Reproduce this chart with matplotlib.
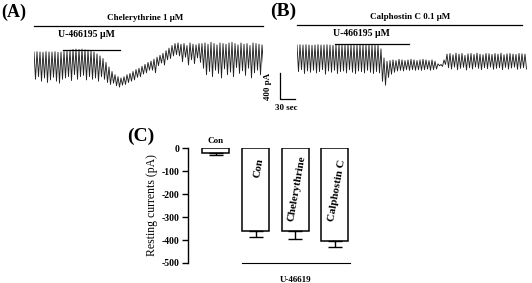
import numpy as np
import matplotlib
matplotlib.use('Agg')
import matplotlib.pyplot as plt

plt.rcParams['font.family'] = ['Liberation Serif', 'DejaVu Serif']
plt.rcParams['font.weight'] = 'bold'

### DATA
period = 6.0  # sec per oscillation
# trace A (chelerythrine), peak / trough current of each cycle, pA
a_peaks = [0, 5, 0, -5, 5, 0, 0, 5, -5, 0, 10, 15, 30, 40, 45, 40, 45, 35, 30, 15, 0, -30, -60, -100,
           -160, -230, -300, -350, -380, -400,
           -380, -350, -330, -300, -270, -250, -220, -190, -160, -140, -110, -80, -50, -20, 20, 60, 100, 130,
           140, 120, 130, 100, 140, 120, 110, 130,
           130, 140, 120, 150, 130, 110, 140, 130, 120, 140, 150, 130, 110, 140, 120, 130, 100, 140, 130, 120, 110]
a_troughs = [-420, -380, -450, -400, -470, -430, -390, -450, -480, -420, -400, -380, -440, -350, -420, -380,
             -360, -430, -380, -420, -400, -450, -380, -420,
             -470, -500, -480, -520, -540, -510,
             -500, -470, -450, -430, -390, -380, -340, -320, -280, -280, -320, -210, -170, -200, -120, -100, -60, -40,
             -60, -150, -80, -200, -120, -180, -90, -160,
             -250, -350, -300, -380, -280, -330, -400, -260, -350, -310, -380, -240, -330, -290, -360, -250,
             -400, -320, -280, -350, -200]
# trace B (calphostin C)
b_peaks = [0, 5, 0, 5, 0, -5, 0, 5, 0, 0, 5, 0, -5, 0, 5, 0, 0, 5, 0, -5, 0, 5, 0, 0, 5, 0, -5, 0,
           -60, -200,
           -250, -240, -230, -240, -220, -230, -240, -230, -220, -230, -240, -230, -220, -230, -240, -230, -250,
           -290, -300, -230,
           -140, -130, -150, -125, -140, -130, -160, -135, -130, -145, -125, -140, -150, -130, -135, -145,
           -130, -140, -125, -150, -135, -130, -140, -145, -130, -135, -140]
b_troughs = [-410, -380, -440, -400, -420, -390, -430, -410, -380, -450, -400, -420, -390, -440, -410, -400,
             -430, -380, -420, -440, -400, -410, -430, -390, -420, -440, -410, -430,
             -560, -620,
             -500, -450, -420, -400, -390, -400, -380, -390, -380, -390, -380, -390, -380, -370, -390, -380, -370,
             -320, -330, -300,
             -350, -370, -340, -380, -360, -345, -385, -350, -370, -340, -360, -380, -350, -365, -340, -375,
             -360, -350, -380, -345, -370, -355, -340, -375, -360, -350, -370]
a_drug = [0, 458]      # chelerythrine application, sec
a_u466 = [58, 172]     # U-46619, sec
b_drug = [0, 450]
b_u466 = [76, 224]
scale_pa = 400
scale_sec = 30

# panel C
c_pos = [0, 1, 2, 3]
c_vals = [-20, -362, -360, -403]
c_errs = [10, 25, 35, 27]
c_labels = ['Con', 'Con', 'Chelerythrine', 'Calphostin C']
c_yticks = [0, -100, -200, -300, -400, -500]

W, H = 532, 283
fig = plt.figure(figsize=(W / 100, H / 100), dpi=100)

def px_axes(x0, y0, x1, y1):
    return fig.add_axes([x0 / W, 1 - y1 / H, (x1 - x0) / W, (y1 - y0) / H])

def zigzag(peaks, troughs):
    t, v = [], []
    for i in range(len(peaks)):
        t += [i * period, i * period + period / 2]
        v += [peaks[i], troughs[i]]
    return t, v

pa_px = 15.4  # pA per pixel
tc = '#222222'

# ---- (A)
axa = px_axes(34, 5, 263, 105)
t, v = zigzag(a_peaks, a_troughs)
axa.plot(t, v, color=tc, lw=0.65)
axa.set_xlim(0, 458)
axa.set_ylim(-53 * pa_px, 47 * pa_px)
axa.axis('off')
axa.plot(a_drug, [400, 400], color='k', lw=0.9, clip_on=False)
axa.text(222, 524, 'Chelerythrine 1 \u03bcM', ha='center', va='center', fontsize=6.5)
axa.plot(a_u466, [25, 25], color='k', lw=0.9, clip_on=False)
axa.text(104, 262, 'U-466195 \u03bcM', ha='center', va='center', fontsize=7)
fig.text(1.5 / W, 1 - 12 / H, '(A)', ha='left', va='center', fontsize=13)

# ---- (B)
axb = px_axes(297, 5, 529, 105)
t, v = zigzag(b_peaks, b_troughs)
axb.plot(t, v, color=tc, lw=0.65)
axb.set_xlim(0, 464)
axb.set_ylim(-60 * pa_px, 40 * pa_px)
axb.axis('off')
axb.plot(b_drug, [308, 308], color='k', lw=0.9, clip_on=False)
axb.text(226, 431, 'Calphostin C 0.1 \u03bcM', ha='center', va='center', fontsize=6.5)
axb.plot(b_u466, [12, 12], color='k', lw=0.9, clip_on=False)
axb.text(128, 170, 'U-466195 \u03bcM', ha='center', va='center', fontsize=7)
fig.text(283 / W, 1 - 11 / H, '(B)', ha='center', va='center', fontsize=14)
# scale bar
sb_x, sb_y = -34, -832
axb.plot([sb_x, sb_x, sb_x + scale_sec], [sb_y + scale_pa, sb_y, sb_y], color='k', lw=0.9, clip_on=False)
axb.text(sb_x - 24, sb_y + scale_pa / 2, '%d pA' % scale_pa, rotation=90, ha='center', va='center', fontsize=6.5)
axb.text(sb_x + 12, sb_y - 140, '%d sec' % scale_sec, ha='center', va='center', fontsize=6.5)

# ---- (C)
axc = px_axes(188, 148, 352, 263)
axc.bar(c_pos, c_vals, width=0.68, color='white', edgecolor='k', linewidth=1.1)
for x, v, e in zip(c_pos, c_vals, c_errs):
    axc.errorbar(x, v, yerr=[[e], [0]], fmt='none', ecolor='k', elinewidth=1.0, capsize=5, capthick=1.0)
axc.set_xlim(-0.705, 3.43)
axc.set_ylim(-500, 0)
axc.set_yticks(c_yticks)
axc.set_yticklabels([str(y) for y in c_yticks], fontsize=7)
axc.tick_params(axis='y', length=4, width=1, pad=2)
axc.set_xticks([])
for s in ['top', 'right', 'bottom']:
    axc.spines[s].set_visible(False)
axc.spines['left'].set_linewidth(1)
axc.set_ylabel('Resting currents (pA)', fontsize=8.5, labelpad=3)
axc.text(c_pos[0], 30, c_labels[0], ha='center', va='center', fontsize=6.5, clip_on=False)
axc.text(c_pos[1] + 0.08, -87, c_labels[1], rotation=80, ha='center', va='center', fontsize=8)
axc.text(c_pos[2] + 0.05, -174, c_labels[2], rotation=80, ha='center', va='center', fontsize=8)
axc.text(c_pos[3] + 0.05, -183, c_labels[3], rotation=80, ha='center', va='center', fontsize=8)
axc.plot([0.65, 3.38], [-500, -500], color='k', lw=0.8, clip_on=False)
axc.text(2.02, -573, 'U-46619', ha='center', va='center', fontsize=6.5, clip_on=False)
fig.text(141 / W, 1 - 136 / H, '(C)', ha='center', va='center', fontsize=14)

fig.savefig('out.png', dpi=100)
